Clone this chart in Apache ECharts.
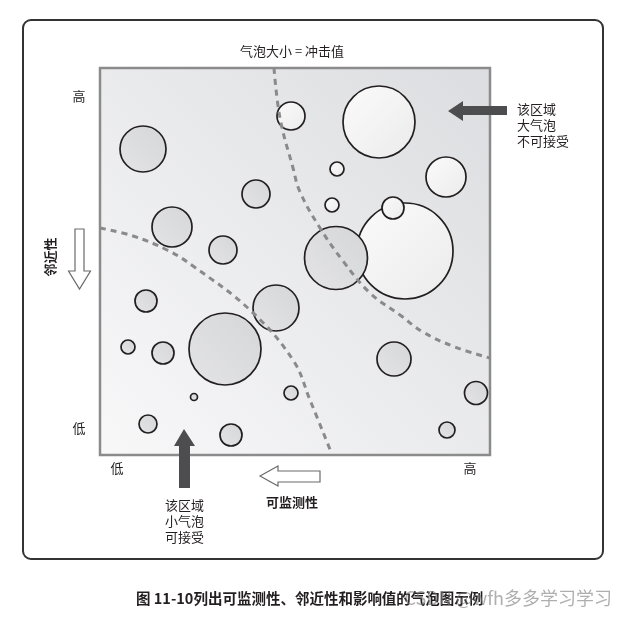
<!DOCTYPE html>
<html><head><meta charset="utf-8">
<script src="https://cdn.jsdelivr.net/npm/echarts@6/dist/echarts.min.js"></script>
<style>html,body{margin:0;padding:0;background:#fff}#c{width:627px;height:618px}</style>
</head><body><div id="c"></div>
<script>
// bubble data (x = monitorability, y = proximity, r = impact), kind: g = gray, w = white
const bubbleX = [43, 72, 123, 156, 191, 279, 237, 346, 232, 305, 293, 236, 176, 46, 28, 63, 125, 94, 48, 131, 191, 294, 376, 347];
const bubbleY = [306, 228, 205, 261, 339, 333, 286, 278, 250, 204, 247, 197, 147, 154, 108, 102, 106, 58, 31, 20, 62, 96, 62, 25];
const bubbleR = [23, 20, 14, 14, 14, 36, 7, 20, 7, 48, 11, 31.5, 23, 11, 7, 11, 36, 3.5, 9, 11, 7, 17, 11.5, 8];
const bubbleKind = ['g','g','g','g','w','w','w','w','w','w','w','g','g','g','g','g','g','g','g','g','g','g','g','g'];
// boundary curves
const curveAX = [174, 180, 193, 200, 220, 243, 270, 300, 323, 355, 390];
const curveAY = [387, 337, 287, 263, 227, 194, 162, 140, 123, 108, 97];
const curveBX = [0, 33, 67, 93, 150, 193, 210, 231];
const curveBY = [227, 219, 205, 189, 145, 95, 55, 3];
const axisLow = '低', axisHigh = '高';

const chart = echarts.init(document.getElementById('c'));
const G = echarts.graphic;
const font = '"Noto Sans CJK SC", "Noto Sans", sans-serif';
const fillG = new G.LinearGradient(1, 0, 0, 1, [{offset: 0, color: '#d5d6d8'}, {offset: 1, color: '#e4e4e6'}]);
const fillW = new G.LinearGradient(1, 1, 0, 0, [{offset: 0, color: '#ebebec'}, {offset: 1, color: '#fbfbfb'}]);
const bubbles = bubbleX.map((x, i) => ({
  value: [x, bubbleY[i], bubbleR[i]],
  itemStyle: {color: bubbleKind[i] === 'g' ? fillG : fillW}
}));
const zip = (xs, ys) => xs.map((x, i) => [x, ys[i]]);
const dash = {color: '#8a8a8b', width: 3, type: [6, 5]};
const txt = (x, y, s, o) => Object.assign({type: 'text', x, y, style: Object.assign({text: s, font: '13px ' + font, fill: '#231f20', textAlign: 'center', textVerticalAlign: 'middle'}, o || {})});

chart.setOption({
  animation: false,
  grid: {left: 100, top: 68, width: 390, height: 387, show: true,
    backgroundColor: new G.LinearGradient(1, 0, 0, 1, [{offset: 0, color: '#dcdde0'}, {offset: 1, color: '#f8f8f9'}]),
    borderColor: '#8b8b8c', borderWidth: 2.5},
  xAxis: {type: 'value', min: 0, max: 390, show: false},
  yAxis: {type: 'value', min: 0, max: 387, show: false},
  series: [
    {type: 'scatter', data: bubbles, symbolSize: v => v[2] * 2, z: 2,
      itemStyle: {borderColor: '#231f20', borderWidth: 1.7, opacity: 1}, silent: true},
    {type: 'line', data: zip(curveAX, curveAY), smooth: 0.4, showSymbol: false, lineStyle: dash, z: 3},
    {type: 'line', data: zip(curveBX, curveBY), smooth: 0.4, showSymbol: false, lineStyle: dash, z: 3}
  ],
  graphic: [
    {type: 'rect', shape: {x: 23, y: 20, width: 580, height: 539, r: 8}, style: {fill: 'none', stroke: '#333', lineWidth: 2}, z: 0},
    txt(292, 51, '气泡大小 = 冲击值'),
    txt(79, 96, axisHigh),
    txt(79, 428, axisLow),
    txt(117, 468, axisLow),
    txt(470, 468, axisHigh),
    {type: 'text', x: 50, y: 257, rotation: Math.PI / 2, style: {text: '邻近性', font: 'bold 13px ' + font, fill: '#231f20', textAlign: 'center', textVerticalAlign: 'middle'}},
    txt(292, 502, '可监测性', {font: 'bold 13px ' + font}),
    txt(165, 521, '该区域\n小气泡\n可接受', {textAlign: 'left', lineHeight: 16}),
    txt(517, 125, '该区域\n大气泡\n不可接受', {textAlign: 'left', lineHeight: 16}),
    // arrows
    {type: 'polygon', shape: {points: [[448, 111], [463, 101], [463, 106], [507, 106], [507, 115], [463, 115], [463, 121]]}, style: {fill: '#4d4d4f'}},
    {type: 'polygon', shape: {points: [[184, 429], [195, 446], [190, 446], [190, 488], [179, 488], [179, 446], [174, 446]]}, style: {fill: '#4d4d4f'}},
    {type: 'polygon', shape: {points: [[75, 229], [84, 229], [84, 271], [90.5, 271], [79.5, 289], [68.5, 271], [75, 271]]}, style: {fill: '#fff', stroke: '#6a6a6a', lineWidth: 1.2}},
    {type: 'polygon', shape: {points: [[260, 476], [278, 466], [278, 471], [320, 471], [320, 482], [278, 482], [278, 486]]}, style: {fill: '#fff', stroke: '#6a6a6a', lineWidth: 1.2}},
    txt(136, 598, '图 11-10列出可监测性、邻近性和影响值的气泡图示例', {font: 'bold 14.5px ' + font, textAlign: 'left'}),
    txt(612, 598, 'CSDN @wfh多多学习学习', {font: '18px ' + font, fill: 'rgba(120,120,120,0.6)', textAlign: 'right'})
  ]
});
</script></body></html>
